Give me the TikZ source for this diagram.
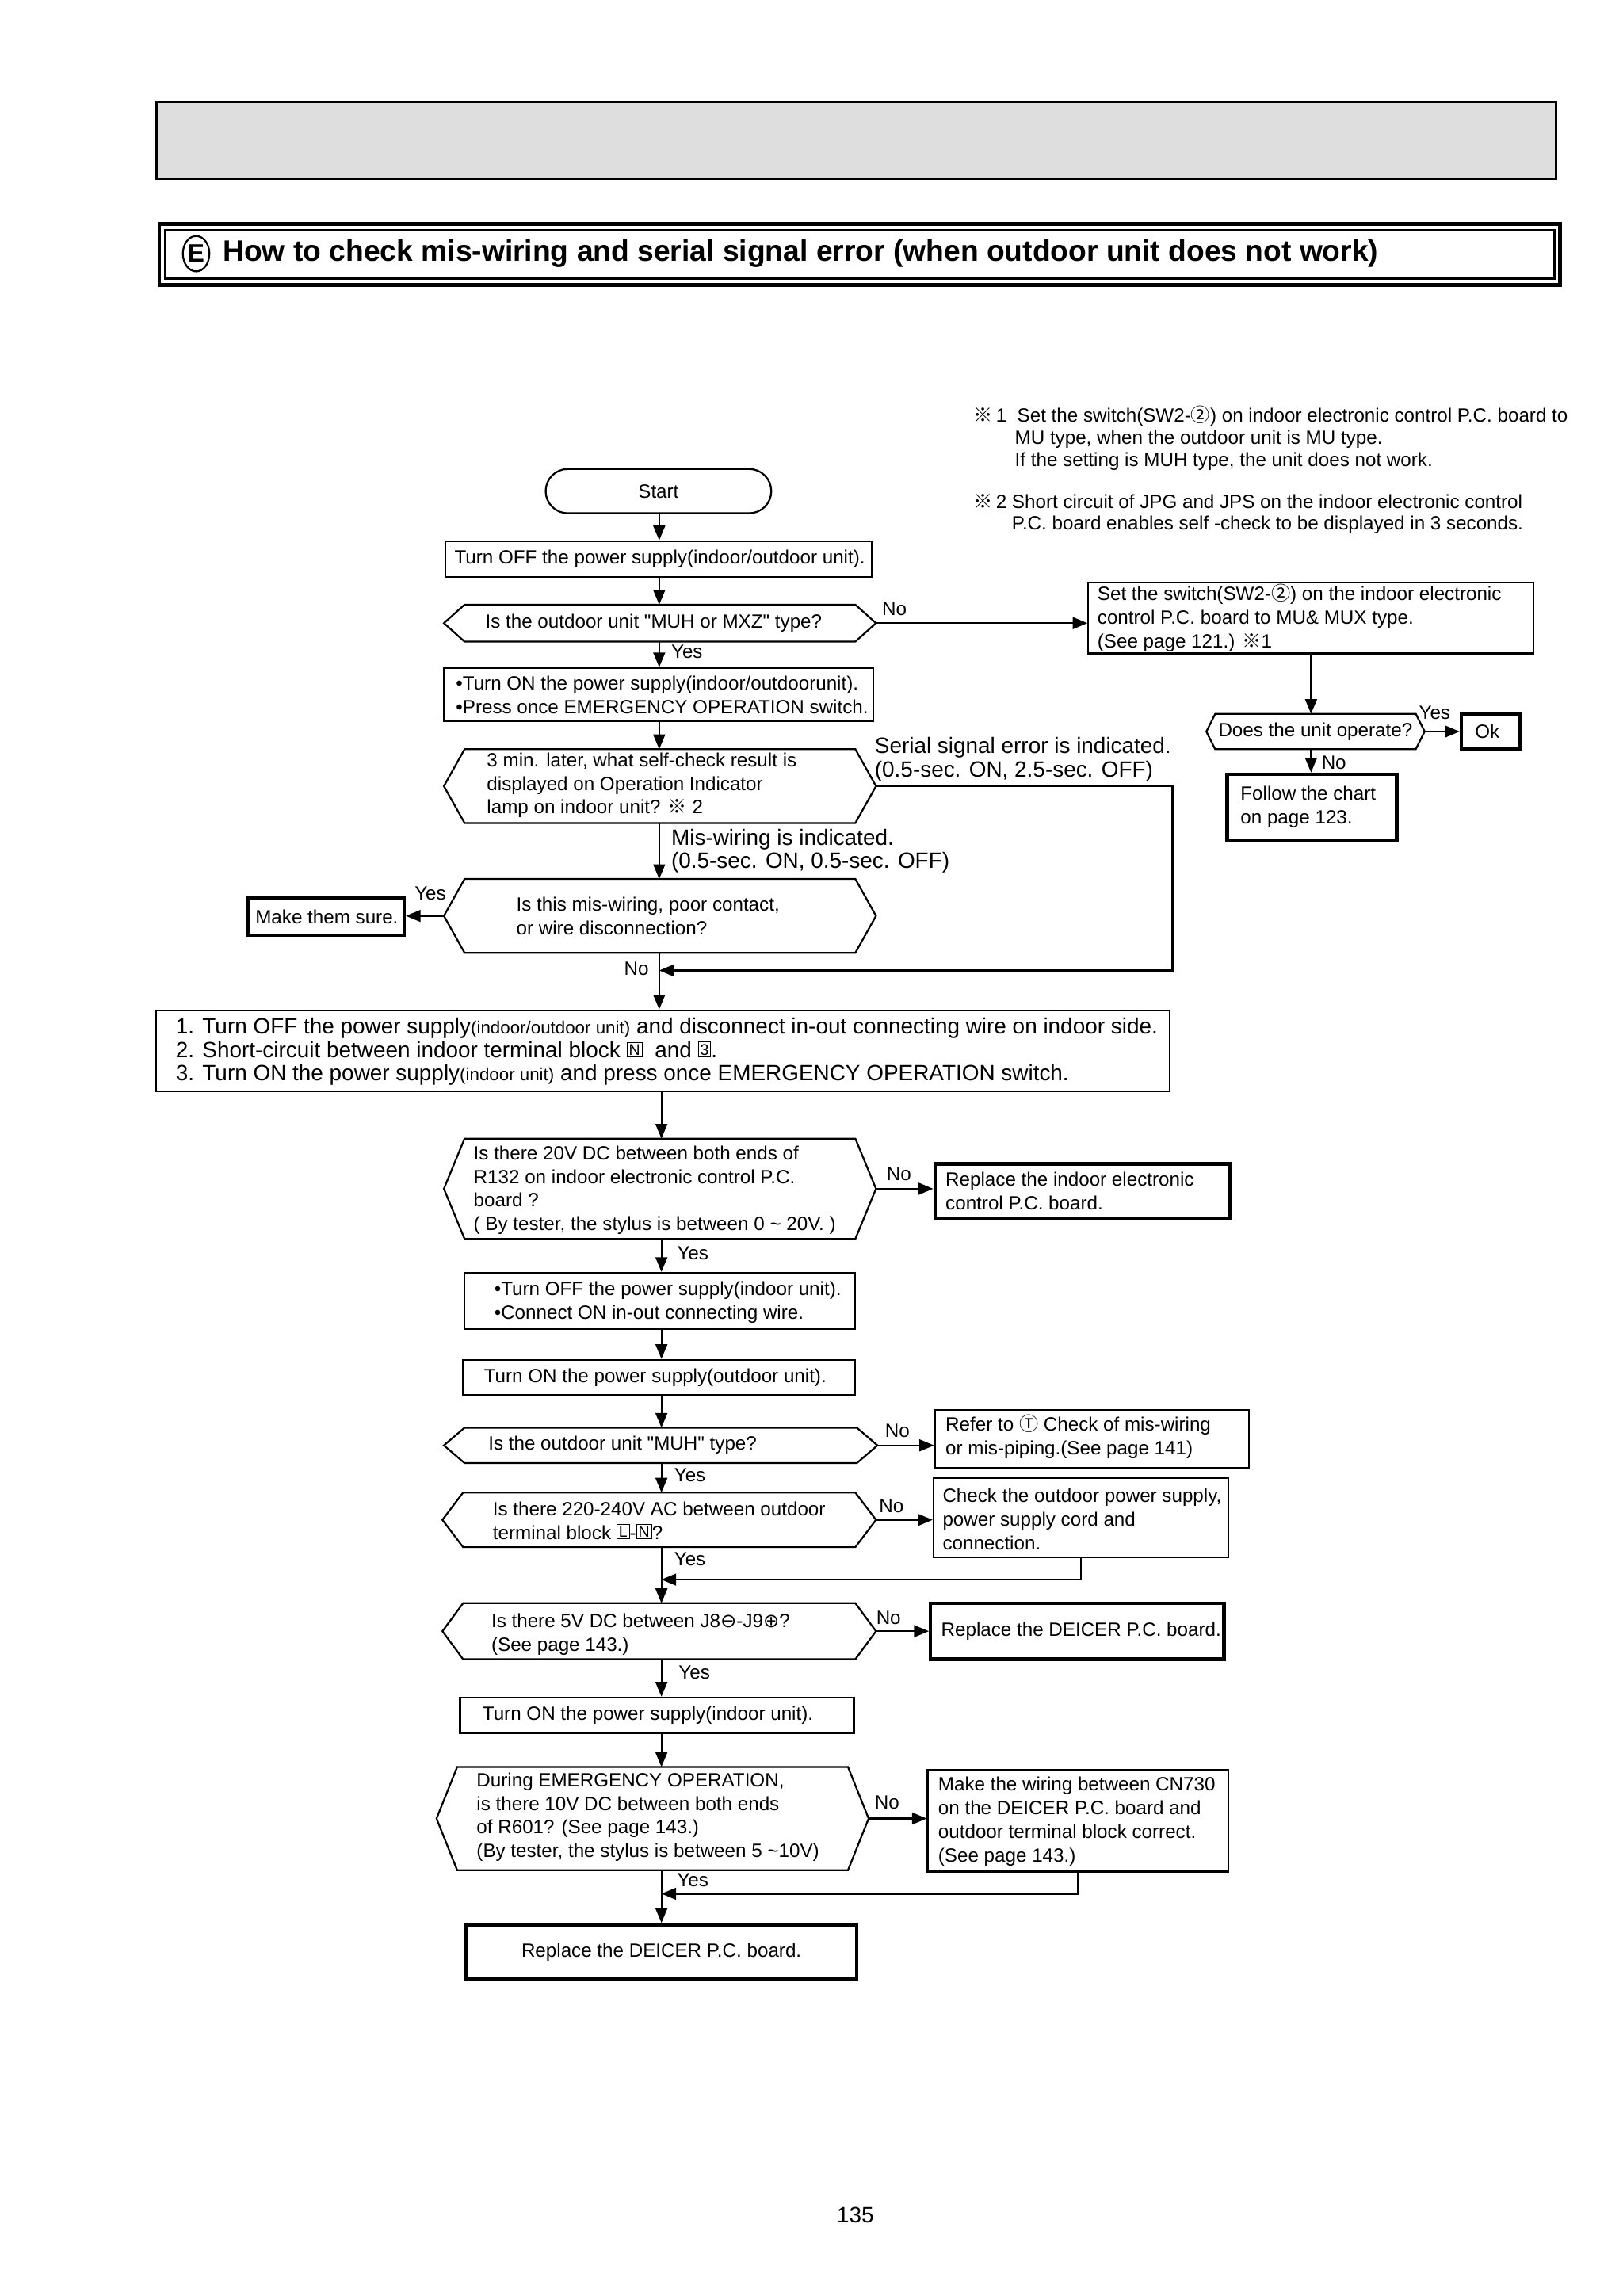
\documentclass[tikz,border=0pt]{standalone}
\usepackage{fontspec}
\setmainfont{Liberation Sans}[Ligatures=TeXOff]
\newfontfamily\cjk{Noto Sans CJK JP}
\newfontfamily\dvs{DejaVu Sans}
\usetikzlibrary{arrows.meta,calc,shapes.geometric}
\newcommand{\bx}[1]{{\setlength{\fboxsep}{1.1pt}\setlength{\fboxrule}{0.5pt}\raisebox{1.6pt}{\fbox{\fontsize{10.5}{10.5}\selectfont #1}}}}
\newcommand{\mybox}[6]{\node[#6, minimum width={#4-#2}, minimum height={#5-#3}] (#1) at ({(#2+#4)/2},{(#3+#5)/2}) {};}
\newcommand{\myhex}[6]{%
  \node[blank, minimum width={#4-#2-2*#6}, minimum height={#5-#3}] (#1) at ({(#2+#4)/2},{(#3+#5)/2}) {};
  \draw[ln] (#1.north west) -- (#1.north east) -- ([xshift=#6pt]#1.east) coordinate (#1r) -- (#1.south east) -- (#1.south west) -- ([xshift=-#6pt]#1.west) coordinate (#1l) -- cycle;}
\begin{document}
\begin{tikzpicture}[x=1pt,y=-1pt,
  ln/.style={line width=1.2pt, line join=miter},
  proc/.style={draw, line width=1.2pt, inner sep=0pt, rectangle},
  tproc/.style={draw, line width=2.4pt, inner sep=0pt, rectangle},
  blank/.style={inner sep=0pt, outer sep=0pt, rectangle},
  txt/.style={font=\fontsize{13}{16}\selectfont, align=left, inner sep=0pt, anchor=west},
  bigtxt/.style={font=\fontsize{15}{16}\selectfont, align=left, inner sep=0pt, anchor=west},
  yn/.style={font=\fontsize{13}{15}\selectfont, inner sep=0pt, anchor=west},
  arr/.style={line width=1.2pt, -{Triangle[length=10pt,width=8pt]}},
]
\fill[white] (0,0) rectangle (1100,1556.76);
\useasboundingbox (0,0) rectangle (1100,1556.76);

% header
\node[draw, line width=1.5pt, fill=black!13, minimum width=949, minimum height=52, inner sep=0pt] (hdr) at (580.5,95) {};
\node[draw, line width=2.6pt, minimum width=950, minimum height=41, inner sep=0pt] (tfo) at (583,172.5) {};
\node[draw, line width=1.5pt, minimum width=942, minimum height=33, inner sep=0pt] (tfi) at (583,172.5) {};
\node[ellipse, draw, line width=1.2pt, minimum width=18, minimum height=24, inner sep=0pt, font=\bfseries\fontsize{17}{17}\selectfont] (circE) at (133,172) {E};
\node[anchor=west, inner sep=0pt, font=\bfseries\fontsize{20}{22}\selectfont] (ttl) at (151,172) {How to check mis-wiring and serial signal error (when outdoor unit does not work)};

% notes
\node[txt] (n1a) at (660,282) {{\cjk ※}\,1\ \ Set the switch(SW2-{\cjk ②}) on indoor electronic control P.C. board to};
\node[txt] (n1b) at (688,298) {MU type, when the outdoor unit is MU type.};
\node[txt] (n1c) at (688,313) {If the setting is MUH type, the unit does not work.};
\node[txt] (n2a) at (660,340) {{\cjk ※}\,2 Short circuit of JPG and JPS on the indoor electronic control};
\node[txt] (n2b) at (686,356) {P.C. board enables self -check to be displayed in 3 seconds.};

% main flow
\node[draw, line width=1.2pt, rounded corners=15pt, minimum width=153, minimum height=30, inner sep=0pt, font=\fontsize{13}{16}\selectfont] (start) at (446.5,333) {Start};

\mybox{b1}{302}{367}{591}{391}{proc}
\node[txt] (b1t) at (308,379) {Turn OFF the power supply(indoor/outdoor unit).};

\myhex{d1}{301}{410}{594}{435}{14}
\node[txt] (d1t) at (329,422.5) {Is the outdoor unit "MUH or MXZ" type?};
\node[yn] (n1) at (598,413) {No};
\node[yn] (y1) at (455,442) {Yes};

\mybox{rA}{738}{395}{1040}{443}{proc}
\node[txt] (rAt) at (744,419) {Set the switch(SW2-{\cjk ②}) on the indoor electronic\\control P.C. board to MU\& MUX type.\\(See page 121.) {\cjk ※}1};

\myhex{d9}{818}{484}{966}{508}{6}
\node[txt] (d9t) at (826,496) {Does the unit operate?};
\node[yn] (y9) at (962,483) {Yes};
\node[yn] (n9) at (896,517) {No};
\mybox{ok}{991}{484}{1031}{508}{tproc}
\node[txt] (okt) at (1000,496) {Ok};
\mybox{fo}{832}{525}{947}{570}{tproc}
\node[txt] (fot) at (841,547) {Follow the chart\\on page 123.};

\mybox{b2}{301}{453}{592}{489}{proc}
\node[txt] (b2t) at (309,471) {•Turn ON the power supply(indoor/outdoorunit).\\•Press once EMERGENCY OPERATION switch.};

\myhex{d2}{301}{508}{594}{558}{14}
\node[txt] (d2t) at (330,532.5) {3 min. later, what self-check result is\\displayed on Operation Indicator\\lamp on indoor unit? {\cjk ※} 2};
\node[bigtxt] (serl) at (593,515) {Serial signal error is indicated.\\(0.5-sec. ON, 2.5-sec. OFF)};
\node[bigtxt] (misl) at (455,577) {Mis-wiring is indicated.\\(0.5-sec. ON, 0.5-sec. OFF)};

\myhex{d3}{301}{596}{594}{646}{14}
\node[txt] (d3t) at (350,621) {Is this mis-wiring, poor contact,\\or wire disconnection?};
\mybox{ms}{168}{609}{274}{634}{tproc}
\node[txt] (mst) at (173,621.5) {Make them sure.};
\node[yn] (y3) at (281,606) {Yes};
\node[yn] (n3) at (423,657) {No};

\mybox{bb}{106}{685}{793}{740}{proc}
\node[bigtxt] (bbt) at (119,713) {1. Turn OFF the power supply{\fontsize{12}{16}\selectfont(indoor/outdoor unit)} and disconnect in-out connecting wire on indoor side.\\2. Short-circuit between indoor terminal block \bx{N}\ \ and \bx{3}.\\3. Turn ON the power supply{\fontsize{12}{16}\selectfont(indoor unit)} and press once EMERGENCY OPERATION switch.};

\myhex{d4}{301}{772}{594}{840}{14}
\node[txt] (d4t) at (321,807) {Is there 20V DC between both ends of\\R132 on indoor electronic control P.C.\\board ?\\( By tester, the stylus is between 0 \textasciitilde\ 20V. )};
\node[yn] (n4) at (601,796) {No};
\mybox{r4}{634}{789}{834}{826}{tproc}
\node[txt] (r4t) at (641,807.5) {Replace the indoor electronic\\control P.C. board.};
\node[yn] (y4) at (459,850) {Yes};

\mybox{b5}{315}{863}{580}{901}{proc}
\node[txt] (b5t) at (335,883) {•Turn OFF the power supply(indoor unit).\\•Connect ON in-out connecting wire.};
\mybox{b6}{314}{922}{580}{946}{proc}
\node[txt] (b6t) at (328,934) {Turn ON the power supply(outdoor unit).};

\myhex{d5}{301}{968}{595}{992}{14}
\node[txt] (d5t) at (331,980) {Is the outdoor unit "MUH" type?};
\node[yn] (n5) at (600,970) {No};
\mybox{r5}{634}{956}{847}{995}{proc}
\node[txt] (r5t) at (641,974) {Refer to {\cjk Ⓣ} Check of mis-wiring\\or mis-piping.(See page 141)};
\node[yn] (y5) at (457,1000) {Yes};

\myhex{d6}{300}{1012}{594}{1049}{14}
\node[txt] (d6t) at (334,1031) {Is there 220-240V AC between outdoor\\terminal block \bx{L}-\bx{N}?};
\node[yn] (n6) at (596,1021) {No};
\mybox{r6}{633}{1002}{833}{1056}{proc}
\node[txt] (r6t) at (639,1030) {Check the outdoor power supply,\\power supply cord and\\connection.};
\node[yn] (y6) at (457,1057) {Yes};

\myhex{d7}{300}{1087}{594}{1125}{14}
\node[txt] (d7t) at (333,1108) {Is there 5V DC between J8{\dvs ⊖}-J9{\dvs ⊕}?\\(See page 143.)};
\node[yn] (n7) at (594,1097) {No};
\mybox{r7}{631}{1087}{830}{1125}{tproc}
\node[txt] (r7t) at (638,1106) {Replace the DEICER P.C. board.};
\node[yn] (y7) at (460,1134) {Yes};

\mybox{b8}{312}{1151}{579}{1175}{proc}
\node[txt] (b8t) at (327,1163) {Turn ON the power supply(indoor unit).};

\myhex{d8}{296}{1198}{589}{1268}{14}
\node[txt] (d8t) at (323,1232) {During EMERGENCY OPERATION,\\is there 10V DC between both ends\\of R601? (See page 143.)\\(By tester, the stylus is between 5 \textasciitilde10V)};
\node[yn] (n8) at (593,1222) {No};
\mybox{r8}{629}{1200}{833}{1269}{proc}
\node[txt] (r8t) at (636,1235) {Make the wiring between CN730\\on the DEICER P.C. board and\\outdoor terminal block correct.\\(See page 143.)};
\node[yn] (y8) at (459,1275) {Yes};

\mybox{fin}{316}{1305}{581}{1342}{tproc}
\node[font=\fontsize{13}{16}\selectfont, inner sep=0pt] (fint) at (fin) {Replace the DEICER P.C. board.};

\node[font=\fontsize{15}{16}\selectfont, inner sep=0pt] (pg) at (580,1502) {135};

% connectors
\coordinate (sp) at (447,0);
\coordinate (sq) at (448.5,0);
\draw[arr] (start.south -| sp) -- (b1.north -| sp);
\draw[arr] (b1.south -| sp) -- (d1.north -| sp);
\draw[arr] (d1.south -| sp) -- (b2.north -| sp);
\draw[arr] (b2.south -| sp) -- (d2.north -| sp);
\draw[arr] (d2.south -| sp) -- (d3.north -| sp);
\draw[arr] (d3l) -- (d3l -| ms.east);
\draw[arr] (d3.south -| sp) -- (bb.north -| sp);
\coordinate (c1) at (795,658);
\draw[arr] (d2r) -| (c1) -- (c1 -| sp);

\draw[arr] (d1r) -- (d1r -| rA.west);
\draw[arr] (rA.south) -- (rA.south |- d9.north);
\draw[arr] (d9r) -- (d9r -| ok.west);
\draw[arr] (d9.south -| rA.south) -- (fo.north -| rA.south);

\draw[arr] (bb.south -| sq) -- (d4.north -| sq);
\draw[arr] (d4r) -- (d4r -| r4.west);
\draw[arr] (d4.south -| sq) -- (b5.north -| sq);
\draw[arr] (b5.south -| sq) -- (b6.north -| sq);
\draw[arr] (b6.south -| sq) -- (d5.north -| sq);
\draw[arr] (d5r) -- (d5r -| r5.west);
\draw[arr] (d5.south -| sq) -- (d6.north -| sq);
\draw[arr] (d6r) -- (d6r -| r6.west);
\draw[arr] (d6.south -| sq) -- (d7.north -| sq);
\coordinate (c2) at (0,1071);
\draw[arr] (r6.south) |- (c2 -| sq);
\draw[arr] (d7r) -- (d7r -| r7.west);
\draw[arr] (d7.south -| sq) -- (b8.north -| sq);
\draw[arr] (b8.south -| sq) -- (d8.north -| sq);
\draw[arr] (d8r) -- (d8r -| r8.west);
\draw[arr] (d8.south -| sq) -- (fin.north -| sq);
\coordinate (c3) at (0,1284);
\draw[arr] (r8.south) |- (c3 -| sq);
\end{tikzpicture}
\end{document}
